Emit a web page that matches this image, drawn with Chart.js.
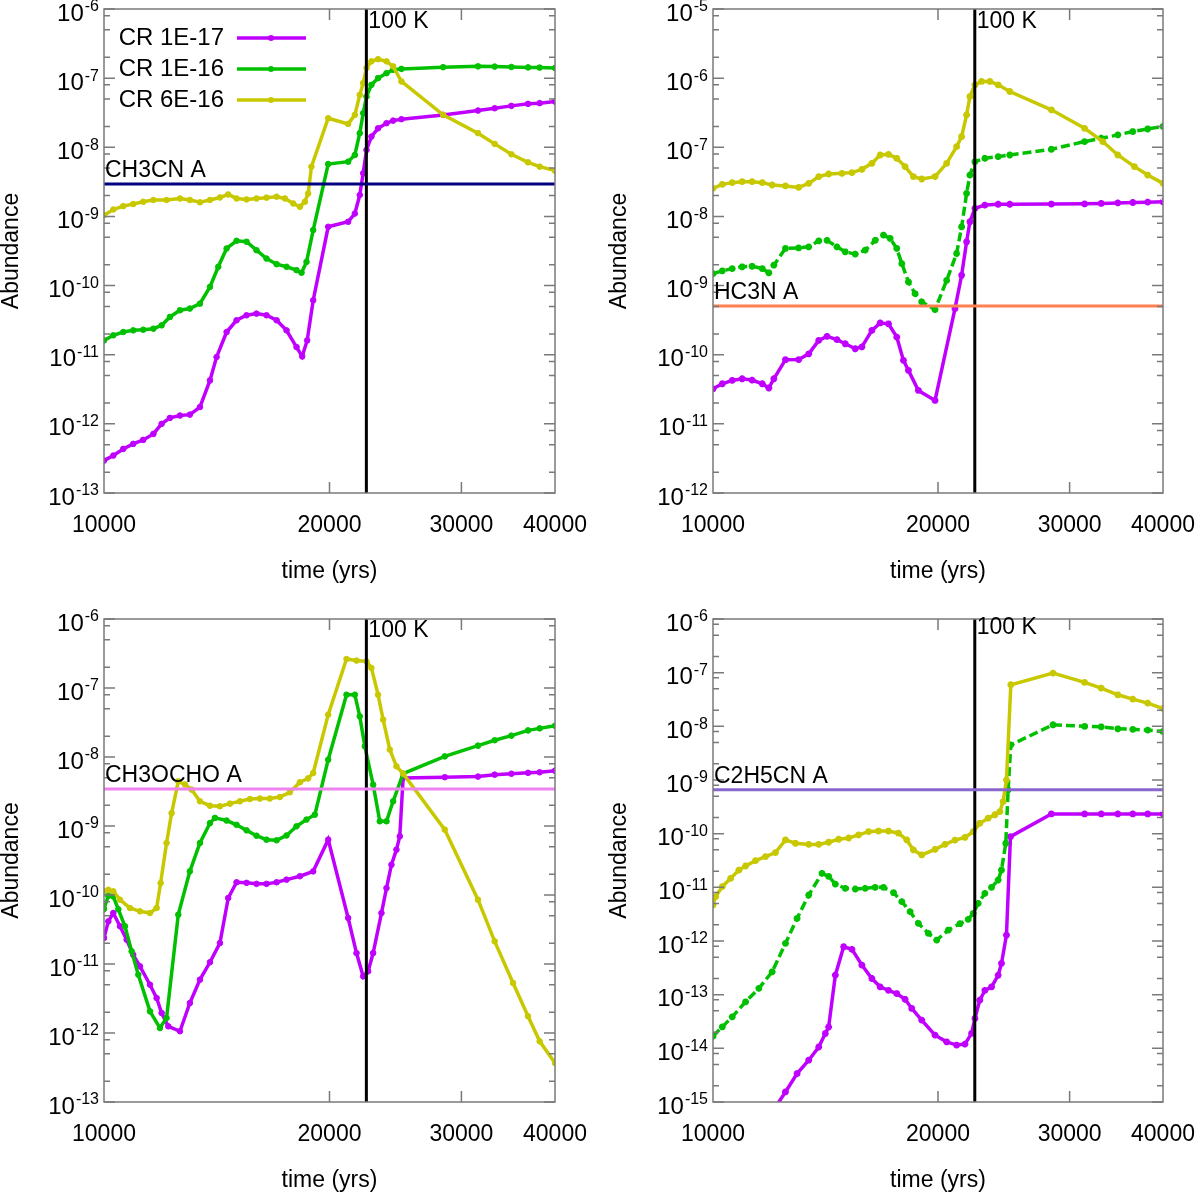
<!DOCTYPE html>
<html><head><meta charset="utf-8">
<script src="https://cdn.jsdelivr.net/npm/chart.js@4.4.1/dist/chart.umd.min.js"></script>
<style>
html,body{margin:0;padding:0;background:#fff;}
#wrap{position:relative;width:1200px;height:1194px;background:#fff;}
canvas{position:absolute;}
</style></head><body>
<div id="wrap">
<canvas id="c1" width="600" height="600" style="left:0;top:0"></canvas>
<canvas id="c2" width="600" height="600" style="left:600px;top:0"></canvas>
<canvas id="c3" width="600" height="594" style="left:0;top:600px"></canvas>
<canvas id="c4" width="600" height="594" style="left:600px;top:600px"></canvas>
</div>
<script>
// ---------- tick labels / axis ranges ----------
const xTicks = [10000, 20000, 30000, 40000];
const xMajorInner = [20000, 30000];
const ch3cnYExps = [-13, -12, -11, -10, -9, -8, -7, -6];
const hc3nYExps = [-12, -11, -10, -9, -8, -7, -6, -5];
const ch3ochoYExps = [-13, -12, -11, -10, -9, -8, -7, -6];
const c2h5cnYExps = [-15, -14, -13, -12, -11, -10, -9, -8, -7, -6];
const seriesNames = ['CR 1E-17', 'CR 1E-16', 'CR 6E-16'];
const hotCoreTime = 22400;     // 100 K
const hotCoreLabel = '100 K';

// observed abundances (horizontal lines)
const ch3cnObs = 2.95e-9;
const hc3nObs = 5.07e-10;
const ch3ochoObs = 3.44e-9;
const c2h5cnObs = 6.55e-10;

// ---------- CH3CN ----------
const ch3cn_cr1e17 = [[10000,2.94e-13],[10290,3.48e-13],[10610,4.34e-13],[10940,5.13e-13],[11280,5.86e-13],[11640,7.16e-13],[11938,1.0e-12],[12247,1.22e-12],[12630,1.32e-12],[13020,1.36e-12],[13430,1.75e-12],[13850,4.25e-12],[14135,9.25e-12],[14577,2.13e-11],[15030,3.15e-11],[15500,3.72e-11],[15980,3.93e-11],[16480,3.72e-11],[17000,3.15e-11],[17525,2.25e-11],[18072,1.29e-11],[18390,9.46e-12],[18674,1.61e-11],[19022,6.12e-11],[19920,7.08e-10],[21180,8.37e-10],[21620,1.10e-9],[21950,2.04e-9],[22180,4.20e-9],[22410,9.14e-9],[22750,1.43e-8],[23220,1.88e-8],[23830,2.23e-8],[24320,2.43e-8],[24950,2.55e-8],[28360,2.94e-8],[31570,3.40e-8],[33230,3.67e-8],[34980,3.97e-8],[36820,4.25e-8],[38160,4.35e-8],[40000,4.59e-8]];
const ch3cn_cr1e16 = [[10000,1.61e-11],[10290,1.91e-11],[10610,2.13e-11],[10940,2.25e-11],[11280,2.30e-11],[11640,2.38e-11],[11938,2.66e-11],[12247,3.52e-11],[12630,4.40e-11],[13020,4.65e-11],[13430,5.48e-11],[13850,9.57e-11],[14208,1.87e-10],[14577,3.44e-10],[15030,4.44e-10],[15500,4.30e-10],[15980,3.25e-10],[16480,2.46e-10],[17000,2.04e-10],[17525,1.87e-10],[18072,1.67e-10],[18352,1.53e-10],[18636,2.20e-10],[19022,6.34e-10],[19920,5.73e-9],[21180,6.19e-9],[21620,7.74e-9],[21950,1.60e-8],[22180,3.11e-8],[22410,5.42e-8],[22750,8.0e-8],[23220,1.0e-7],[23830,1.18e-7],[24320,1.32e-7],[24950,1.36e-7],[28360,1.44e-7],[31570,1.48e-7],[33230,1.47e-7],[34980,1.45e-7],[36820,1.43e-7],[38160,1.42e-7],[40000,1.40e-7]];
const ch3cn_cr6e16 = [[10000,1.04e-9],[10290,1.26e-9],[10610,1.41e-9],[10940,1.51e-9],[11280,1.63e-9],[11640,1.73e-9],[12120,1.73e-9],[12630,1.82e-9],[13020,1.73e-9],[13430,1.60e-9],[13850,1.73e-9],[14280,1.88e-9],[14650,2.08e-9],[15030,1.82e-9],[15500,1.76e-9],[15980,1.82e-9],[16480,1.87e-9],[17000,1.93e-9],[17440,1.82e-9],[17890,1.54e-9],[18260,1.38e-9],[18540,1.63e-9],[18730,2.15e-9],[18920,5.25e-9],[19920,2.63e-8],[21180,2.18e-8],[21620,2.94e-8],[21950,5.73e-8],[22180,8.47e-8],[22410,1.40e-7],[22750,1.75e-7],[23220,1.88e-7],[23830,1.75e-7],[24320,1.48e-7],[24950,8.95e-8],[28360,2.94e-8],[31570,1.60e-8],[33230,1.12e-8],[34980,7.92e-9],[36820,6.06e-9],[38160,5.25e-9],[40000,4.59e-9]];

// ---------- HC3N ----------
const hc3n_cr1e17 = [[10000,3.21e-11],[10290,3.8e-11],[10610,4.25e-11],[10940,4.49e-11],[11280,4.3e-11],[11640,3.8e-11],[11877,3.3e-11],[12061,4.49e-11],[12501,8.47e-11],[13020,8.5e-11],[13430,1.03e-10],[13850,1.61e-10],[14208,1.84e-10],[14650,1.65e-10],[15030,1.44e-10],[15500,1.22e-10],[15820,1.3e-10],[16314,2.25e-10],[16736,2.88e-10],[17170,2.8e-10],[17615,1.8e-10],[17980,8.28e-11],[18260,5.93e-11],[18828,3.04e-11],[19818,2.18e-11],[21074,4.65e-10],[21510,1.41e-9],[21842,4.3e-9],[22066,8.37e-9],[22410,1.31e-8],[23107,1.46e-8],[24073,1.5e-8],[24950,1.5e-8],[28360,1.51e-8],[31416,1.52e-8],[33067,1.54e-8],[34804,1.57e-8],[36445,1.59e-8],[38160,1.61e-8],[40000,1.63e-8]];
const hc3n_cr1e16 = [[10000,1.49e-9],[10290,1.63e-9],[10610,1.76e-9],[10940,1.87e-9],[11280,1.9e-9],[11640,1.76e-9],[11877,1.53e-9],[12061,1.97e-9],[12501,3.44e-9],[13020,3.5e-9],[13430,3.63e-9],[13850,4.44e-9],[14208,4.5e-9],[14650,3.63e-9],[15030,3.08e-9],[15500,2.85e-9],[15980,3.25e-9],[16480,4.5e-9],[16908,5.36e-9],[17258,4.8e-9],[17615,3.44e-9],[17890,2.08e-9],[18260,1.13e-9],[18636,7.66e-10],[19022,5.8e-10],[19818,4.49e-10],[20541,1.19e-9],[21180,2.91e-9],[21510,7.08e-9],[21842,2.15e-8],[22066,3.97e-8],[22410,6.19e-8],[23107,6.93e-8],[24073,7.33e-8],[24950,7.74e-8],[28360,9.35e-8],[31416,1.21e-7],[33067,1.35e-7],[34804,1.51e-7],[36445,1.69e-7],[38160,1.84e-7],[40000,2.0e-7]];
const hc3n_cr6e16 = [[10000,2.55e-8],[10290,2.91e-8],[10610,3.08e-8],[10940,3.18e-8],[11280,3.18e-8],[11640,3.08e-8],[11999,2.85e-8],[12501,2.76e-8],[13020,2.63e-8],[13430,3.01e-8],[13850,3.76e-8],[14280,4.11e-8],[14878,4.2e-8],[15343,4.3e-8],[15820,4.8e-8],[16314,5.86e-8],[16736,7.74e-8],[17170,7.9e-8],[17615,6.93e-8],[18072,5.25e-8],[18540,3.76e-8],[19022,3.48e-8],[19818,3.76e-8],[20541,5.86e-8],[21180,1.02e-7],[21510,1.43e-7],[21842,2.94e-7],[22066,5.42e-7],[22410,8.0e-7],[22871,8.95e-7],[23464,8.95e-7],[24073,8.0e-7],[24950,6.41e-7],[28360,3.48e-7],[31416,1.88e-7],[33230,1.21e-7],[34804,7.74e-8],[36632,5.25e-8],[38160,3.97e-8],[40000,3.01e-8]];

// ---------- CH3OCHO ----------
const ch3ocho_cr1e17 = [[10000,2.38e-11],[10134,4.15e-11],[10290,5.48e-11],[10504,3.52e-11],[10721,2.25e-11],[10940,1.36e-11],[11169,9.25e-12],[11518,5.01e-12],[11756,3.21e-12],[11938,1.95e-12],[12185,1.25e-12],[12630,1.06e-12],[13020,2.72e-12],[13430,5.93e-12],[13850,1.06e-11],[14280,2.01e-11],[14650,9.05e-11],[15030,1.53e-10],[15500,1.5e-10],[15980,1.45e-10],[16480,1.45e-10],[17000,1.53e-10],[17525,1.67e-10],[18260,1.87e-10],[19022,2.2e-10],[19920,6.34e-10],[21180,4.65e-11],[21731,1.44e-11],[22180,6.62e-12],[22522,7.83e-12],[22871,1.44e-11],[23464,5.48e-11],[23830,1.26e-10],[24196,2.75e-10],[24570,4.54e-10],[24823,7.08e-10],[25079,4.97e-9],[28504,5.1e-9],[31570,5.2e-9],[33230,5.55e-9],[34980,5.73e-9],[36820,5.9e-9],[38160,6.0e-9],[40000,6.34e-9]];
const ch3ocho_cr1e16 = [[10000,6.27e-11],[10134,9.77e-11],[10290,9.5e-11],[10450,6.2e-11],[10666,3.52e-11],[10887,1.53e-11],[11112,7.0e-12],[11518,2.06e-12],[11877,1.18e-12],[12120,1.65e-12],[12565,5.19e-11],[13020,2.20e-10],[13430,5.67e-10],[13850,1.10e-9],[14063,1.31e-9],[14577,1.2e-9],[15030,1.04e-9],[15500,8.65e-10],[15980,7.24e-10],[16480,6.34e-10],[17000,6.2e-10],[17525,7.3e-10],[18072,9.9e-10],[18636,1.24e-9],[19120,1.46e-9],[19920,9.14e-9],[21074,8.0e-8],[21620,8.0e-8],[21950,3.88e-8],[22293,1.43e-8],[22871,3.97e-9],[23344,1.17e-9],[23830,1.17e-9],[24320,2.28e-9],[25079,5.73e-9],[28504,1.02e-8],[31570,1.46e-8],[33230,1.75e-8],[34980,2.04e-8],[36820,2.43e-8],[38160,2.6e-8],[40000,2.84e-8]];
const ch3ocho_cr6e16 = [[10000,1.13e-10],[10134,1.19e-10],[10290,1.13e-10],[10504,8.55e-11],[10831,6.48e-11],[11169,5.8e-11],[11518,5.48e-11],[11756,6.48e-11],[11901,1.49e-10],[12120,5.67e-10],[12310,1.54e-9],[12565,4.44e-9],[12825,4.0e-9],[13090,3.37e-9],[13430,2.28e-9],[13850,1.97e-9],[14280,1.93e-9],[14727,2.11e-9],[15186,2.28e-9],[15659,2.46e-9],[16147,2.5e-9],[16650,2.5e-9],[17170,2.63e-9],[17706,3.08e-9],[18260,4.30e-9],[18730,4.9e-9],[19022,5.86e-9],[19920,4.11e-8],[21074,2.63e-7],[21731,2.5e-7],[22410,2.43e-7],[22750,1.95e-7],[23220,8.0e-8],[23585,3.48e-8],[24073,1.28e-8],[24570,7.33e-9],[25079,5.73e-9],[28504,8.85e-10],[31570,8.55e-11],[33230,2.13e-11],[35162,5.31e-12],[36820,1.75e-12],[38160,7.57e-13],[40000,3.67e-13]];

// ---------- C2H5CN ----------
const c2h5cn_cr1e17 = [[12120,8.0e-16],[12501,1.54e-15],[12957,3.39e-15],[13430,6.01e-15],[13850,1.06e-14],[14135,1.89e-14],[14280,2.5e-14],[14577,2.31e-13],[14955,7.82e-13],[15343,7.0e-13],[15820,3.56e-13],[16314,2.0e-13],[16736,1.40e-13],[17170,1.2e-13],[17615,1.05e-13],[18072,8.2e-14],[18446,5.53e-14],[19022,3.35e-14],[19818,1.76e-14],[20541,1.32e-14],[21180,1.15e-14],[21731,1.2e-14],[22180,1.9e-14],[22410,3.6e-14],[22750,7.91e-14],[23107,1.2e-13],[23585,1.4e-13],[24073,2.3e-13],[24320,3.82e-13],[24696,1.29e-12],[25002,8.81e-11],[28360,2.33e-10],[31416,2.33e-10],[33067,2.33e-10],[34804,2.33e-10],[36445,2.33e-10],[38160,2.33e-10],[40000,2.33e-10]];
const c2h5cn_cr1e16 = [[10000,1.68e-14],[10290,2.51e-14],[10610,3.86e-14],[11056,7.36e-14],[11518,1.31e-13],[11999,2.67e-13],[12501,9.02e-13],[12957,2.64e-12],[13430,7.19e-12],[13991,1.82e-11],[14280,1.6e-11],[14577,1.15e-11],[15030,9.58e-12],[15500,9.3e-12],[15980,9.58e-12],[16480,1.0e-11],[16908,1.0e-11],[17440,7.94e-12],[17890,5.41e-12],[18352,3.52e-12],[18828,2.13e-12],[19416,1.39e-12],[19920,1.04e-12],[20647,1.6e-12],[21400,2.1e-12],[21950,2.53e-12],[22293,3.27e-12],[22638,5.02e-12],[23107,7.73e-12],[23585,1.0e-11],[24073,1.37e-11],[24320,2.1e-11],[24645,6.62e-11],[24823,6.55e-10],[25030,4.52e-9],[28504,1.07e-8],[31416,1.0e-8],[33067,9.8e-9],[34804,9.0e-9],[36445,8.8e-9],[38160,8.5e-9],[40000,8.0e-9]];
const c2h5cn_cr6e16 = [[10000,4.68e-12],[10082,6.7e-12],[10290,1.03e-11],[10558,1.47e-11],[10831,2.1e-11],[11056,2.5e-11],[11400,3.15e-11],[11756,3.73e-11],[12120,4.43e-11],[12501,7.64e-11],[12891,6.62e-11],[13430,6.3e-11],[13850,6.3e-11],[14280,6.92e-11],[14727,7.87e-11],[15186,8.3e-11],[15659,9.47e-11],[16147,1.09e-10],[16650,1.12e-10],[17170,1.12e-10],[17706,1.02e-10],[18165,7.64e-11],[18540,4.98e-11],[19022,4.01e-11],[19818,5.1e-11],[20436,6.3e-11],[21074,7.6e-11],[21731,8.5e-11],[22293,1.09e-10],[22750,1.56e-10],[23344,1.94e-10],[23830,2.25e-10],[24196,2.58e-10],[24445,3.96e-10],[24696,1.0e-9],[25030,5.96e-8],[28504,9.8e-8],[31416,6.58e-8],[33067,5.16e-8],[34804,3.87e-8],[36445,3.22e-8],[38160,2.71e-8],[40000,2.15e-8]];

// ---------- styling ----------
const COL = ['#c000ff', '#00c000', '#c8c800'];
const FONT = '"Liberation Sans", Arial, Helvetica, sans-serif';
const FRAME = '#7a7a7a';

function seriesDS(data, i, dashed, star) {
  return {
    data, borderColor: COL[i], backgroundColor: COL[i],
    pointBackgroundColor: COL[i], pointBorderColor: COL[i],
    borderWidth: 3.5, borderDash: dashed ? [9, 4] : [],
    pointStyle: star ? 'star' : 'circle',
    pointRadius: star ? 3.4 : 2.8, pointBorderWidth: star ? 2.2 : 1,
    tension: 0, order: 3 - i
  };
}
function lineDS(data, color) {
  return { data, borderColor: color, borderWidth: 3, pointRadius: 0, tension: 0, order: 0 };
}

function gpPlugin(p) {
  return {
    id: 'gp',
    afterDraw(chart) {
      const ctx = chart.ctx, a = chart.chartArea, xs = chart.scales.x, ys = chart.scales.y;
      ctx.save();
      ctx.strokeStyle = FRAME; ctx.lineWidth = 1.5;
      ctx.strokeRect(a.left, a.top, a.right - a.left, a.bottom - a.top);
      ctx.beginPath();
      const exps = p.yExps;
      for (let k = 0; k < exps.length; k++) {
        const v = Math.pow(10, exps[k]);
        const y = ys.getPixelForValue(v);
        ctx.moveTo(a.left, y); ctx.lineTo(a.left + 11, y);
        ctx.moveTo(a.right, y); ctx.lineTo(a.right - 11, y);
        if (k < exps.length - 1) {
          for (const m of [2, 5, 8]) {
            const ym = ys.getPixelForValue(m * v);
            ctx.moveTo(a.left, ym); ctx.lineTo(a.left + 6, ym);
            ctx.moveTo(a.right, ym); ctx.lineTo(a.right - 6, ym);
          }
        }
      }
      for (const t of xMajorInner) {
        const x = xs.getPixelForValue(t);
        ctx.moveTo(x, a.bottom); ctx.lineTo(x, a.bottom - 11);
        ctx.moveTo(x, a.top); ctx.lineTo(x, a.top + 11);
      }
      ctx.stroke();

      ctx.fillStyle = '#000';
      for (const e of exps) {
        const y = ys.getPixelForValue(Math.pow(10, e));
        const expStr = String(e);
        ctx.font = '16px ' + FONT;
        const we = ctx.measureText(expStr).width;
        ctx.font = '24px ' + FONT;
        const wb = ctx.measureText('10').width;
        const right = a.left - 5;
        ctx.textBaseline = 'middle'; ctx.textAlign = 'left';
        ctx.fillText('10', right - we - wb - 1, y + 5);
        ctx.font = '16px ' + FONT;
        ctx.fillText(expStr, right - we, y - 2);
      }
      ctx.font = '23px ' + FONT;
      ctx.textAlign = 'center'; ctx.textBaseline = 'middle';
      for (const t of xTicks) ctx.fillText(String(t), xs.getPixelForValue(t), a.bottom + 33);
      ctx.fillText('time (yrs)', (a.left + a.right) / 2, a.bottom + 79);
      ctx.save();
      ctx.translate(p.abX, (a.top + a.bottom) / 2);
      ctx.rotate(-Math.PI / 2);
      ctx.fillText('Abundance', 0, 0);
      ctx.restore();
      ctx.textAlign = 'left';
      ctx.fillText(hotCoreLabel, xs.getPixelForValue(hotCoreTime) + 2, a.top + p.kDy);
      ctx.fillText(p.refLabel, a.left + 1, ys.getPixelForValue(p.refValue) - 13);
      if (p.legend) {
        const rows = [38, 69, 100];
        ctx.font = '24px ' + FONT;
        for (let i = 0; i < 3; i++) {
          ctx.textAlign = 'right';
          ctx.fillStyle = '#000';
          ctx.fillText(seriesNames[i], 224, rows[i]);
          ctx.strokeStyle = COL[i]; ctx.lineWidth = 3.5;
          ctx.beginPath(); ctx.moveTo(237, rows[i]); ctx.lineTo(306, rows[i]); ctx.stroke();
          ctx.fillStyle = COL[i];
          ctx.beginPath(); ctx.arc(271, rows[i], 3, 0, Math.PI * 2); ctx.fill();
        }
      }
      ctx.restore();
    }
  };
}

function makePanel(id, p) {
  const yMin = Math.pow(10, p.yExps[0]);
  const yMax = Math.pow(10, p.yExps[p.yExps.length - 1]);
  const datasets = [
    seriesDS(p.s[0], 0, false, p.star),
    seriesDS(p.s[1], 1, p.dashGreen, p.star),
    seriesDS(p.s[2], 2, false, p.star),
    lineDS([[xTicks[0], p.refValue], [xTicks[3], p.refValue]], p.refColor),
    lineDS([[hotCoreTime, yMin], [hotCoreTime, yMax]], '#000')
  ];
  new Chart(document.getElementById(id), {
    type: 'line',
    data: { datasets },
    options: {
      responsive: false, animation: false, devicePixelRatio: 1,
      layout: { padding: p.pad },
      plugins: { legend: { display: false }, tooltip: { enabled: false } },
      scales: {
        x: { type: 'logarithmic', min: xTicks[0], max: xTicks[3], display: false },
        y: { type: 'logarithmic', min: yMin, max: yMax, display: false }
      }
    },
    plugins: [gpPlugin(p)]
  });
}

makePanel('c1', { yExps: ch3cnYExps, s: [ch3cn_cr1e17, ch3cn_cr1e16, ch3cn_cr6e16],
  refValue: ch3cnObs, refColor: '#000080', refLabel: 'CH3CN A',
  pad: { left: 104, top: 9, right: 45, bottom: 107 }, abX: 12, kDy: 13, legend: true, dashGreen: false, star: false });
makePanel('c2', { yExps: hc3nYExps, s: [hc3n_cr1e17, hc3n_cr1e16, hc3n_cr6e16],
  refValue: hc3nObs, refColor: '#ff7f50', refLabel: 'HC3N A',
  pad: { left: 113, top: 9, right: 37, bottom: 107 }, abX: 20, kDy: 13, legend: false, dashGreen: true, star: true });
makePanel('c3', { yExps: ch3ochoYExps, s: [ch3ocho_cr1e17, ch3ocho_cr1e16, ch3ocho_cr6e16],
  refValue: ch3ochoObs, refColor: '#ee82ee', refLabel: 'CH3OCHO A',
  pad: { left: 104, top: 19, right: 45, bottom: 92 }, abX: 12, kDy: 12, legend: false, dashGreen: false, star: false });
makePanel('c4', { yExps: c2h5cnYExps, s: [c2h5cn_cr1e17, c2h5cn_cr1e16, c2h5cn_cr6e16],
  refValue: c2h5cnObs, refColor: '#8866cc', refLabel: 'C2H5CN A',
  pad: { left: 113, top: 19, right: 37, bottom: 92 }, abX: 20, kDy: 9, legend: false, dashGreen: true, star: true });
</script>
</body></html>
